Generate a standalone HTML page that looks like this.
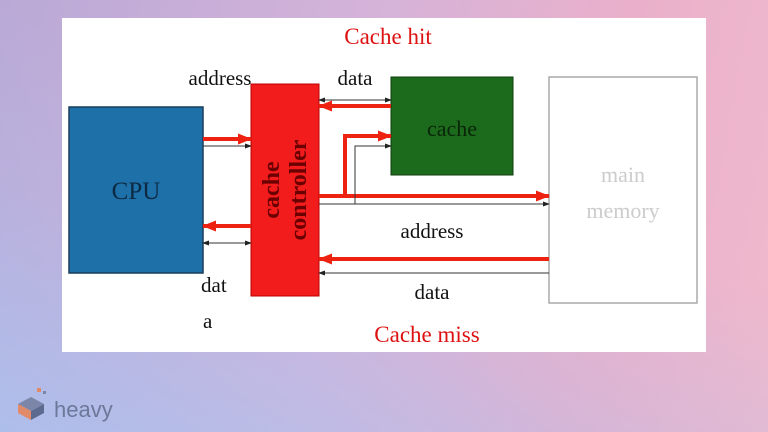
<!DOCTYPE html>
<html><head><style>
html,body{margin:0;padding:0}
body{width:768px;height:432px;overflow:hidden;position:relative;
background:linear-gradient(100deg,#b9a9d6 0%,#d5b3d9 45%,#eab0cb 75%,#f0b9cc 100%);}
.ov{position:absolute;inset:0;background:linear-gradient(20deg,rgba(170,195,240,.8) 0%,rgba(180,190,235,.3) 35%,rgba(0,0,0,0) 60%);}
svg{position:absolute;left:0;top:0}
text{font-family:"Liberation Serif",serif}
</style></head><body><div class="ov"></div>
<svg width="768" height="432" viewBox="0 0 768 432">
<defs>
<marker id="r" markerWidth="14" markerHeight="14" refX="13" refY="7" orient="auto" markerUnits="userSpaceOnUse"><path d="M0,1.5L14,7L0,12.5z" fill="#e21"/></marker>
<marker id="g" markerWidth="7" markerHeight="7" refX="6" refY="3.5" orient="auto-start-reverse" markerUnits="userSpaceOnUse"><path d="M0,1L7,3.5L0,6z" fill="#222"/></marker>
</defs>
<rect x="62" y="18" width="644" height="334" fill="#fff"/>
<rect x="69" y="107" width="134" height="166" fill="#1e70a8" stroke="#1a3d5a" stroke-width="1.5"/>
<text x="136" y="199" font-size="25" text-anchor="middle" fill="#0d2a44">CPU</text>
<rect x="251" y="84" width="68" height="212" fill="#f21c1c" stroke="#b00" stroke-width="1"/>
<text transform="translate(279,190) rotate(-90)" font-size="24" font-weight="bold" text-anchor="middle" fill="#6a0000">cache</text>
<text transform="translate(306,190) rotate(-90)" font-size="24" font-weight="bold" text-anchor="middle" fill="#6a0000">controller</text>
<rect x="391" y="77" width="122" height="98" fill="#1c6b1c" stroke="#0e3d0e"/>
<text x="452" y="136" font-size="22" text-anchor="middle" fill="#0a250a">cache</text>
<rect x="549" y="77" width="148" height="226" fill="#fff" stroke="#aaa" stroke-width="1.5"/>
<text x="623" y="182" font-size="22" text-anchor="middle" fill="#ccc">main</text>
<text x="623" y="218" font-size="22" text-anchor="middle" fill="#ccc">memory</text>
<line x1="203" y1="139" x2="251" y2="139" stroke="#e21" stroke-width="4" marker-end="url(#r)"/>
<line x1="203" y1="146" x2="251" y2="146" stroke="#333" stroke-width="1" marker-end="url(#g)"/>
<line x1="251" y1="226" x2="203" y2="226" stroke="#e21" stroke-width="4" marker-end="url(#r)"/>
<line x1="203" y1="243" x2="251" y2="243" stroke="#333" stroke-width="1" marker-start="url(#g)" marker-end="url(#g)"/>
<line x1="319" y1="100" x2="391" y2="100" stroke="#333" stroke-width="1" marker-start="url(#g)" marker-end="url(#g)"/>
<line x1="391" y1="106" x2="319" y2="106" stroke="#e21" stroke-width="4" marker-end="url(#r)"/>
<polyline points="345,195 345,136 391,136" fill="none" stroke="#e21" stroke-width="4" marker-end="url(#r)"/>
<line x1="319" y1="196" x2="549" y2="196" stroke="#e21" stroke-width="4" marker-end="url(#r)"/>
<polyline points="355,204 355,146 391,146" fill="none" stroke="#333" stroke-width="1" marker-end="url(#g)"/>
<line x1="319" y1="204" x2="549" y2="204" stroke="#333" stroke-width="1" marker-end="url(#g)"/>
<line x1="549" y1="259" x2="319" y2="259" stroke="#e21" stroke-width="4" marker-end="url(#r)"/>
<line x1="549" y1="273" x2="319" y2="273" stroke="#333" stroke-width="1" marker-end="url(#g)"/>
<text x="388" y="44" font-size="23" text-anchor="middle" fill="#d11">Cache hit</text>
<text x="427" y="342" font-size="23" text-anchor="middle" fill="#d11">Cache miss</text>
<text x="220" y="85" font-size="21" text-anchor="middle" fill="#111">address</text>
<text x="355" y="85" font-size="21" text-anchor="middle" fill="#111">data</text>
<text x="432" y="238" font-size="21" text-anchor="middle" fill="#111">address</text>
<text x="432" y="299" font-size="21" text-anchor="middle" fill="#111">data</text>
<text x="201" y="292" font-size="21" fill="#111">dat</text>
<text x="203" y="328" font-size="21" fill="#111">a</text>
<g>
<path d="M18,404 L31,397 L44,404 L31,411z" fill="#7b86a8"/>
<path d="M18,404 L31,411 L31,420 L18,413z" fill="#e08a6a"/>
<path d="M44,404 L31,411 L31,420 L44,413z" fill="#5d6a90"/>
<rect x="37" y="388" width="4" height="4" fill="#e08a6a"/><rect x="43" y="391" width="3" height="3" fill="#7b86a8"/>
</g>
<text x="54" y="417" font-size="22" fill="#6c7899" style="font-family:'Liberation Sans',sans-serif">heavy</text>
</svg>
</body></html>
